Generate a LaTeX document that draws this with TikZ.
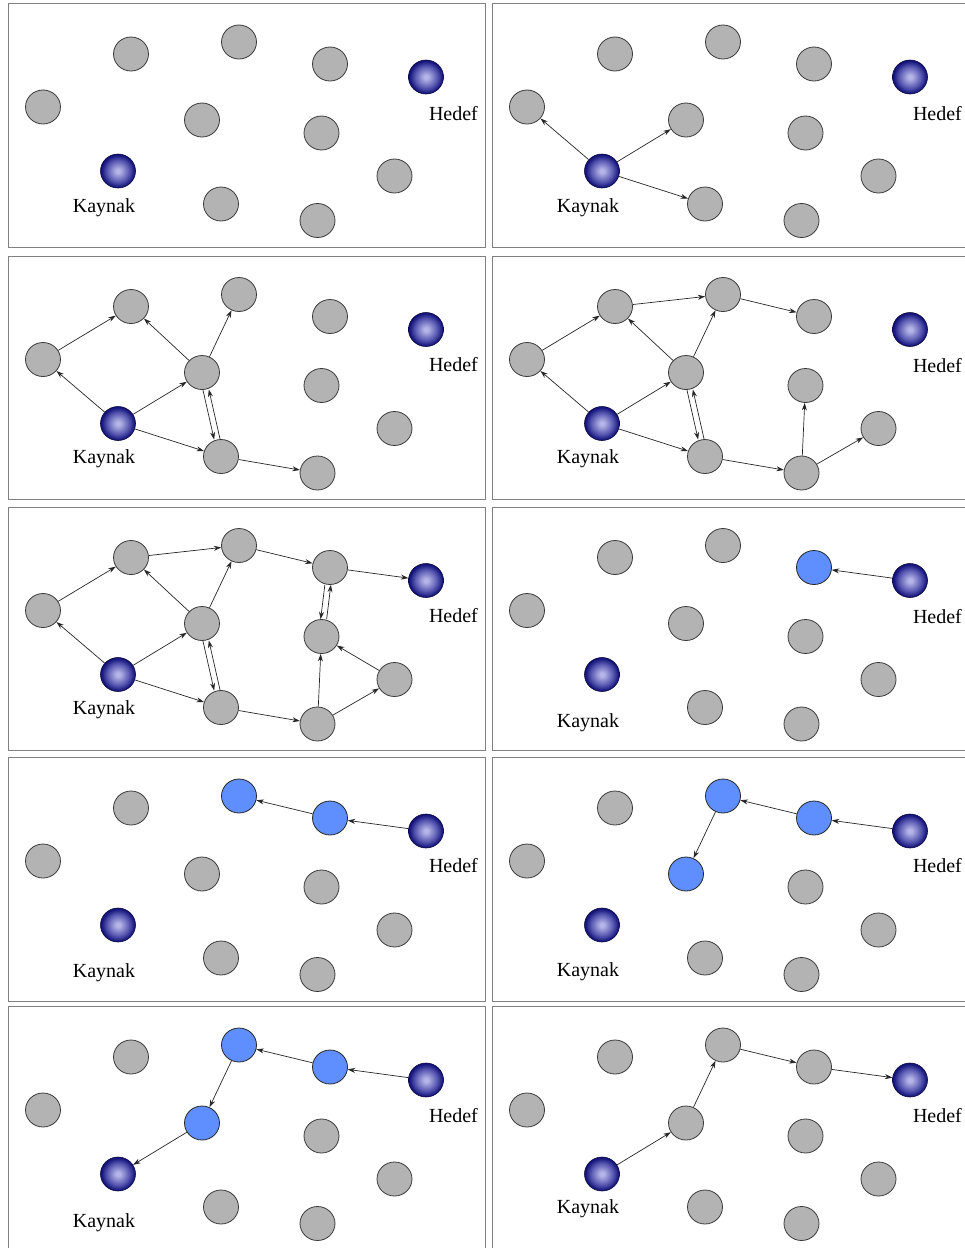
\documentclass[tikz,border=0pt]{standalone}
\usepackage{fontspec}
\setmainfont{Liberation Serif}
\usetikzlibrary{arrows.meta,shapes.geometric}
\definecolor{gfill}{HTML}{B3B3B3}
\definecolor{gline}{HTML}{3A3A3A}
\definecolor{bfill}{HTML}{5F8FFE}
\definecolor{ballc}{HTML}{B4B4E8}
\definecolor{ballm}{HTML}{5656B0}
\definecolor{balle}{HTML}{12127A}
\definecolor{framec}{HTML}{808080}
\pgfdeclareradialshading{kball}{\pgfpoint{0bp}{0bp}}{color(0bp)=(ballc); color(3bp)=(ballc); color(16bp)=(ballm); color(24bp)=(balle); color(50bp)=(balle)}
\tikzset{
  gnode/.style={ellipse,draw=gline,line width=0.8pt,fill=gfill,minimum width=35pt,minimum height=34pt,inner sep=0pt},
  bnode/.style={fill=bfill,draw=black!85},
  ball/.style={ellipse,draw=balle!50!black,line width=0.6pt,minimum width=35pt,minimum height=34pt,inner sep=0pt,shading=kball},
  frame/.style={draw=framec,line width=1pt},
  lbl/.style={anchor=base west,inner sep=0pt,font=\fontsize{20}{24}\selectfont},
  arr/.style={draw=black!85,line width=0.7pt,-{Stealth[length=7.5pt,width=5pt]}},
  dl/.style={transform canvas={xshift=-3pt}},
  dr/.style={transform canvas={xshift=3pt}},
  p6c/.style=bnode,
  p7b/.style=bnode, p7c/.style=bnode,
  p8b/.style=bnode, p8c/.style=bnode, p8e/.style=bnode,
  p9b/.style=bnode, p9c/.style=bnode, p9e/.style=bnode
}
\newcommand\drawpanel[5]{%
\begin{scope}[shift={(#2,#3)}]
\draw[frame] (8,3.5) rectangle (485,247);
\node[ball] (#1K) at (118,171) {};
\node[ball] (#1H) at (426,77) {};
\node[gnode,#1a/.try] (#1a) at (131,54) {};
\node[gnode,#1b/.try] (#1b) at (239,42) {};
\node[gnode,#1c/.try] (#1c) at (330,64) {};
\node[gnode,#1d/.try] (#1d) at (43,107) {};
\node[gnode,#1e/.try] (#1e) at (202,120) {};
\node[gnode,#1f/.try] (#1f) at (321.5,133) {};
\node[gnode,#1g/.try] (#1g) at (221,204) {};
\node[gnode,#1h/.try] (#1h) at (317.5,220.5) {};
\node[gnode,#1i/.try] (#1i) at (394.5,176) {};
\node[lbl] (#1kl) at (72.7,#4) {Kaynak};
\node[lbl] (#1hl) at (428.8,#5) {Hedef};
\end{scope}}
\begin{document}
\begin{tikzpicture}[x=1pt,y=-1pt]
\useasboundingbox (0,0) rectangle (965,1248);
% panel 1
\drawpanel{p1}{0}{0}{212.5}{120}
% panel 2
\drawpanel{p2}{484}{0}{212.5}{120.5}
\draw[arr] (p2K) -- (p2d);
\draw[arr] (p2K) -- (p2e);
\draw[arr] (p2K) -- (p2g);
% panel 3
\drawpanel{p3}{0}{252.5}{210.8}{119.2}
\draw[arr] (p3K) -- (p3d);
\draw[arr] (p3K) -- (p3e);
\draw[arr] (p3K) -- (p3g);
\draw[arr] (p3d) -- (p3a);
\draw[arr] (p3e) -- (p3a);
\draw[arr] (p3e) -- (p3b);
\draw[arr,dl] (p3e) -- (p3g);
\draw[arr,dr] (p3g) -- (p3e);
\draw[arr] (p3g) -- (p3h);
% panel 4
\drawpanel{p4}{484}{252.5}{210.8}{120}
\draw[arr] (p4K) -- (p4d);
\draw[arr] (p4K) -- (p4e);
\draw[arr] (p4K) -- (p4g);
\draw[arr] (p4d) -- (p4a);
\draw[arr] (p4e) -- (p4a);
\draw[arr] (p4e) -- (p4b);
\draw[arr,dl] (p4e) -- (p4g);
\draw[arr,dr] (p4g) -- (p4e);
\draw[arr] (p4g) -- (p4h);
\draw[arr] (p4a) -- (p4b);
\draw[arr] (p4b) -- (p4c);
\draw[arr] (p4h) -- (p4f);
\draw[arr] (p4h) -- (p4i);
% panel 5
\drawpanel{p5}{0}{503.5}{210.5}{119.2}
\draw[arr] (p5K) -- (p5d);
\draw[arr] (p5K) -- (p5e);
\draw[arr] (p5K) -- (p5g);
\draw[arr] (p5d) -- (p5a);
\draw[arr] (p5e) -- (p5a);
\draw[arr] (p5e) -- (p5b);
\draw[arr,dl] (p5e) -- (p5g);
\draw[arr,dr] (p5g) -- (p5e);
\draw[arr] (p5g) -- (p5h);
\draw[arr] (p5a) -- (p5b);
\draw[arr] (p5b) -- (p5c);
\draw[arr] (p5h) -- (p5f);
\draw[arr] (p5h) -- (p5i);
\draw[arr] (p5i) -- (p5f);
\draw[arr] (p5c) -- (p5H);
\draw[arr,dl] (p5c) -- (p5f);
\draw[arr,dr] (p5f) -- (p5c);
% panel 6
\drawpanel{p6}{484}{503.5}{223.8}{119.8}
\draw[arr] (p6H) -- (p6c);
% panel 7
\drawpanel{p7}{0}{754}{223.3}{118.7}
\draw[arr] (p7H) -- (p7c);
\draw[arr] (p7c) -- (p7b);
% panel 8
\drawpanel{p8}{484}{754}{222.7}{118.7}
\draw[arr] (p8H) -- (p8c);
\draw[arr] (p8c) -- (p8b);
\draw[arr] (p8b) -- (p8e);
% panel 9
\drawpanel{p9}{0}{1003}{224.3}{119}
\draw[arr] (p9H) -- (p9c);
\draw[arr] (p9c) -- (p9b);
\draw[arr] (p9b) -- (p9e);
\draw[arr] (p9e) -- (p9K);
% panel 10
\drawpanel{p10}{484}{1003}{210.3}{119.7}
\draw[arr] (p10K) -- (p10e);
\draw[arr] (p10e) -- (p10b);
\draw[arr] (p10b) -- (p10c);
\draw[arr] (p10c) -- (p10H);
\end{tikzpicture}
\end{document}
